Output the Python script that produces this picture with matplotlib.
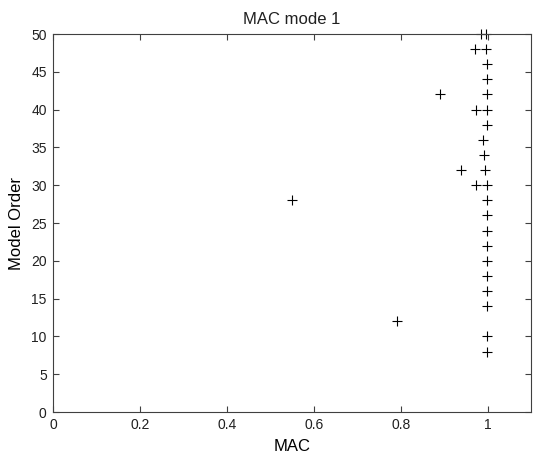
import matplotlib
matplotlib.use('Agg')
import matplotlib.pyplot as plt

# stable poles: model order vs MAC value
model_order = [50, 50, 48, 48, 46, 44, 42, 42, 40, 40, 38, 36, 34, 32, 32,
               30, 30, 28, 28, 26, 24, 22, 20, 18, 16, 14, 12, 10, 8]
mac = [0.985, 0.997, 0.970, 0.997, 0.998, 0.998, 0.891, 0.998, 0.974, 0.998,
       0.998, 0.989, 0.992, 0.939, 0.995, 0.974, 0.998, 0.549, 0.998, 0.998,
       0.998, 0.998, 0.998, 0.998, 0.998, 0.998, 0.791, 0.998, 0.998]

x_ticks = [0, 0.2, 0.4, 0.6, 0.8, 1]
y_ticks = list(range(0, 51, 5))

plt.rcParams['font.family'] = ['Liberation Sans', 'DejaVu Sans']
plt.rcParams['font.size'] = 10
plt.rcParams['text.color'] = '#202020'
plt.rcParams['xtick.labelcolor'] = '#202020'
plt.rcParams['ytick.labelcolor'] = '#202020'

fig = plt.figure(figsize=(5.39, 4.57), dpi=100)
ax = fig.add_axes([53 / 539, 45 / 457, 478 / 539, 378 / 457])

ax.plot(mac, model_order, linestyle='none', marker='+', color='black',
        markersize=7.5, markeredgewidth=0.8, clip_on=False)

ax.set_xlim(0, 1.1)
ax.set_ylim(0, 50)
ax.set_xticks(x_ticks)
ax.set_xticklabels(['0', '0.2', '0.4', '0.6', '0.8', '1'])
ax.set_yticks(y_ticks)
ax.tick_params(direction='in', top=True, right=True, length=4, width=0.8,
               color='#404040')
ax.tick_params(axis='x', pad=4.5)
ax.tick_params(axis='y', pad=4.5)
for s in ax.spines.values():
    s.set_color('#404040')
    s.set_linewidth(0.8)

ax.set_title('MAC mode 1', fontsize=12, pad=7.5)
ax.set_xlabel('MAC', fontsize=12, labelpad=5)
ax.set_ylabel('Model Order', fontsize=12, labelpad=5)

fig.savefig('out.png', dpi=100)
